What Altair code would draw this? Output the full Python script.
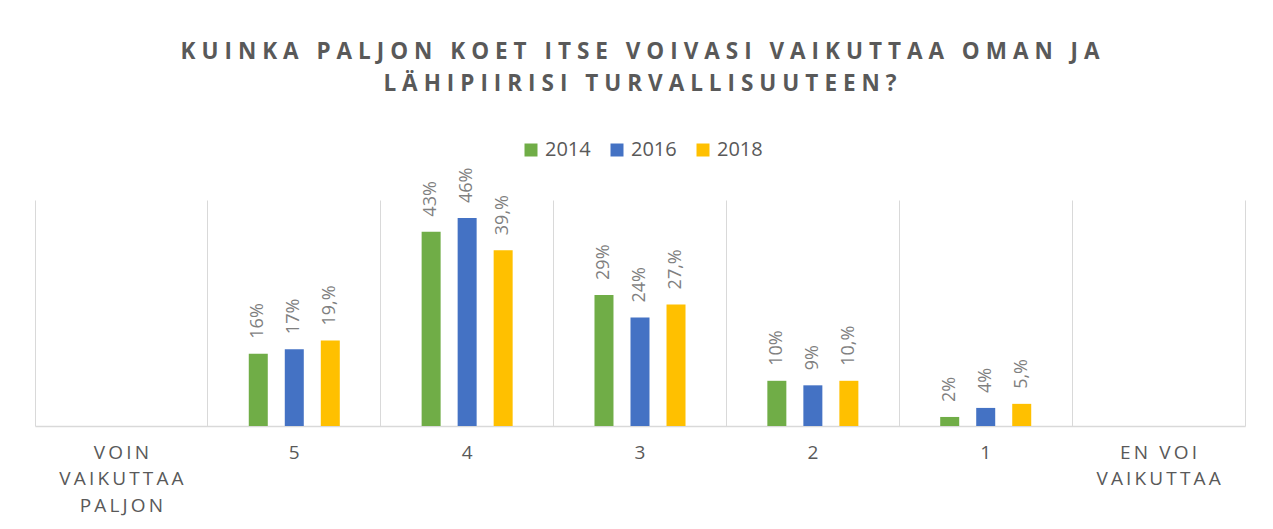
import altair as alt
import pandas as pd

# ---- data ----
categories = ["VOIN VAIKUTTAA PALJON", "5", "4", "3", "2", "1", "EN VOI VAIKUTTAA"]
category_lines = [["VOIN", "VAIKUTTAA", "PALJON"], ["5"], ["4"], ["3"], ["2"], ["1"], ["EN VOI", "VAIKUTTAA"]]
rated = ["5", "4", "3", "2", "1"]
years = ["2014", "2016", "2018"]
v2014 = [16, 43, 29, 10, 2]
v2016 = [17, 46, 24, 9, 4]
v2018 = [18.9, 38.9, 26.9, 10.0, 4.9]
l2014 = ["16%", "43%", "29%", "10%", "2%"]
l2016 = ["17%", "46%", "24%", "9%", "4%"]
l2018 = ["19,%", "39,%", "27,%", "10,%", "5,%"]
colors = ["#70ad47", "#4472c4", "#ffc000"]
title_lines = ["KUINKA PALJON KOET ITSE VOIVASI VAIKUTTAA OMAN JA",
               "LÄHIPIIRISI TURVALLISUUTEEN?"]

THIN = "\u2009"
HAIR = "\u200a"


def spaced(s, sep):
    return sep.join(list(s))


cat_display = ["|".join(spaced(line, THIN) for line in lines) for lines in category_lines]
cat_map = dict(zip(categories, cat_display))

rows = []
for vals, labs, yr in [(v2014, l2014, "2014"), (v2016, l2016, "2016"), (v2018, l2018, "2018")]:
    for c, v, l in zip(rated, vals, labs):
        rows.append({"cat": cat_map[c], "year": yr, "value": v, "label": l})
df = pd.DataFrame(rows)

FONT = "Open Sans"
GRID = "#d9d9d9"
W = 1210

x_axis = alt.Axis(title=None, labelExpr="split(datum.label, '|')", labelFontSize=19,
                  labelColor="#595959", labelFont=FONT, ticks=False, domainColor=GRID,
                  domainWidth=1.5, labelPadding=17, labelLineHeight=26.5, labelAngle=0,
                  grid=True, gridColor=GRID, gridWidth=1, bandPosition=0)
x_enc = alt.X("cat:N", sort=cat_display,
              scale=alt.Scale(domain=cat_display, paddingInner=0, paddingOuter=0), axis=x_axis)
y_enc = alt.Y("value:Q", scale=alt.Scale(domain=[0, 50]),
              axis=alt.Axis(orient="right", title=None, labels=False, ticks=False, grid=False,
                            domain=True, domainColor=GRID, domainWidth=1))
xoff = alt.XOffset("year:N", scale=alt.Scale(paddingInner=0.2, paddingOuter=1))

bars = alt.Chart(df).mark_bar(width=19).encode(
    x=x_enc,
    xOffset=xoff,
    y=y_enc,
    color=alt.Color("year:N", scale=alt.Scale(domain=years, range=colors),
                    legend=alt.Legend(title=None, orient="none", legendX=486, legendY=-60,
                                      direction="horizontal", symbolType="square",
                                      symbolSize=169, symbolStrokeWidth=0,
                                      labelFontSize=20, labelColor="#595959", labelFont=FONT,
                                      labelOffset=4, columnPadding=16, padding=0)))

labels = alt.Chart(df).mark_text(angle=270, align="left", baseline="middle", dx=15,
                                 fontSize=18, color="#7f7f7f", font=FONT).encode(
    x=x_enc,
    xOffset=xoff,
    y=y_enc,
    text="label:N")

chart = alt.layer(bars, labels).properties(
    width=W, height=226,
    padding={"left": 27, "top": 192, "right": 20, "bottom": 95},
    autosize=alt.AutoSizeParams(type="none"),
    title=alt.TitleParams(text=[spaced(t, THIN + HAIR) for t in title_lines], fontSize=22.5,
                          fontWeight="bold", font=FONT, color="#595959", anchor="middle",
                          frame="group", lineHeight=32, offset=45),
).configure_view(stroke=None)

chart.save("out.html", embed_options={"renderer": "svg", "actions": False})
